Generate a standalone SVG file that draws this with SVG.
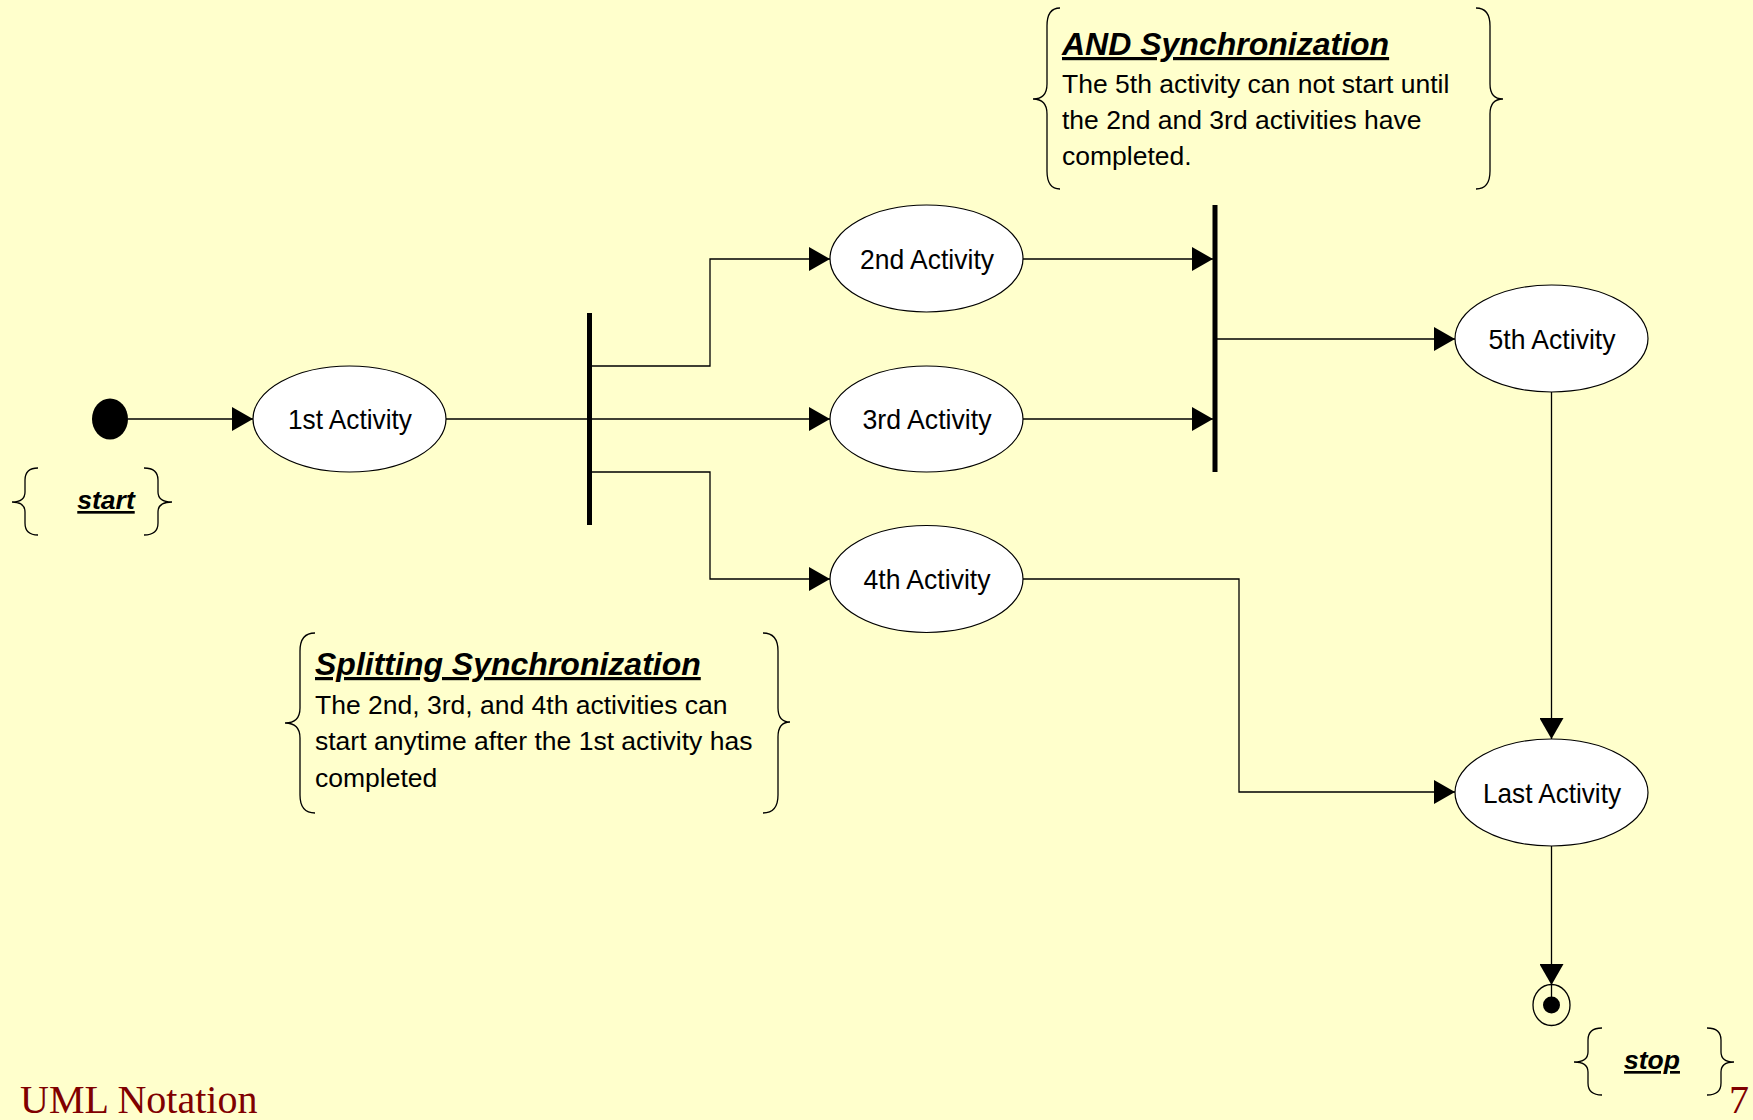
<svg xmlns="http://www.w3.org/2000/svg" width="1753" height="1120" viewBox="0 0 1753 1120">
<style>
.bg{fill:#FFFFCC}
.act{fill:#FFFFFF;stroke:#000;stroke-width:1.2}
.lbl{font-family:"Liberation Sans",Arial,sans-serif;font-size:28px;fill:#000;text-anchor:middle}
.con{fill:none;stroke:#000;stroke-width:1.3}
.bar{fill:#000}
.brace{fill:none;stroke:#000;stroke-width:1.3}
.ttl{font-family:"Liberation Sans",Arial,sans-serif;font-size:32px;font-weight:bold;font-style:italic;text-decoration:underline;fill:#000}
.body{font-family:"Liberation Sans",Arial,sans-serif;font-size:26.5px;fill:#000}
.tag{font-family:"Liberation Sans",Arial,sans-serif;font-size:26.5px;font-weight:bold;font-style:italic;text-decoration:underline;fill:#000;text-anchor:middle}
.foot{font-family:"Liberation Serif","Times New Roman",serif;font-size:40px;fill:#800000}
</style>
<defs>
<marker id="arr" markerUnits="userSpaceOnUse" markerWidth="22" markerHeight="24" viewBox="0 0 21 24" refX="21" refY="12" orient="auto">
<path d="M0,0 L21,12 L0,24 z" fill="#000"/>
</marker>
</defs>
<rect class="bg" x="0" y="0" width="1753" height="1120"/>

<g id="connectors">
<path class="con" d="M128,419 H253" marker-end="url(#arr)"/>
<path class="con" d="M446,419 H830" marker-end="url(#arr)"/>
<path class="con" d="M592,366 H710 V259 H830" marker-end="url(#arr)"/>
<path class="con" d="M592,472 H710 V579 H830" marker-end="url(#arr)"/>
<path class="con" d="M1023,259 H1213" marker-end="url(#arr)"/>
<path class="con" d="M1023,419 H1213" marker-end="url(#arr)"/>
<path class="con" d="M1217,339 H1455" marker-end="url(#arr)"/>
<path class="con" d="M1023,579 H1239 V792 H1455" marker-end="url(#arr)"/>
<path class="con" d="M1551.5,392 V739" marker-end="url(#arr)"/>
<path class="con" d="M1551.5,846 V985" marker-end="url(#arr)"/>
</g>

<g id="start">
<ellipse cx="110" cy="419" rx="18" ry="20.5" fill="#000"/>
</g>
<g id="start-note">
<path class="brace" d="M38,468 Q25,468 25,480 L25,492 Q25,502 12,502 Q25,502 25,512 L25,523 Q25,535 38,535"/>
<path class="brace" d="M144,468 Q158,468 158,480 L158,492 Q158,502 172,502 Q158,502 158,512 L158,523 Q158,535 144,535"/>
<text class="tag" x="106" y="509">start</text>
</g>

<g id="act1">
<ellipse class="act" cx="349.5" cy="419" rx="96.5" ry="53"/>
<text class="lbl" x="350" y="429" textLength="124" lengthAdjust="spacingAndGlyphs">1st Activity</text>
</g>

<g id="fork">
<rect class="bar" x="587" y="313" width="5" height="212"/>
</g>

<g id="act2">
<ellipse class="act" cx="926.5" cy="258.5" rx="96.5" ry="53.5"/>
<text class="lbl" x="927" y="269" textLength="134" lengthAdjust="spacingAndGlyphs">2nd Activity</text>
</g>
<g id="act3">
<ellipse class="act" cx="926.5" cy="419" rx="96.5" ry="53"/>
<text class="lbl" x="927" y="429" textLength="129" lengthAdjust="spacingAndGlyphs">3rd Activity</text>
</g>
<g id="act4">
<ellipse class="act" cx="926.5" cy="579" rx="96.5" ry="53.5"/>
<text class="lbl" x="927" y="589" textLength="127" lengthAdjust="spacingAndGlyphs">4th Activity</text>
</g>

<g id="join">
<rect class="bar" x="1212.5" y="205" width="5" height="267"/>
</g>

<g id="act5">
<ellipse class="act" cx="1551.5" cy="338.5" rx="96.5" ry="53.5"/>
<text class="lbl" x="1552" y="349" textLength="127" lengthAdjust="spacingAndGlyphs">5th Activity</text>
</g>
<g id="actLast">
<ellipse class="act" cx="1551.5" cy="792.5" rx="96.5" ry="53.5"/>
<text class="lbl" x="1552" y="803" textLength="138" lengthAdjust="spacingAndGlyphs">Last Activity</text>
</g>

<g id="end">
<ellipse cx="1551.5" cy="1005" rx="18.5" ry="20.5" fill="none" stroke="#000" stroke-width="1.3"/>
<line x1="1551.5" y1="985" x2="1551.5" y2="998" stroke="#000" stroke-width="1.3"/>
<circle cx="1551.5" cy="1005" r="8.5" fill="#000"/>
</g>
<g id="stop-note">
<path class="brace" d="M1602,1028 Q1588,1028 1588,1040 L1588,1052 Q1588,1062 1574,1062 Q1588,1062 1588,1072 L1588,1083 Q1588,1095 1602,1095"/>
<path class="brace" d="M1707,1028 Q1721,1028 1721,1040 L1721,1052 Q1721,1062 1734,1062 Q1721,1062 1721,1072 L1721,1083 Q1721,1095 1707,1095"/>
<text class="tag" x="1652" y="1069">stop</text>
</g>

<g id="and-note">
<path class="brace" d="M1060,8 Q1047,8 1047,26 L1047,84 Q1047,99 1033,99 Q1047,99 1047,114 L1047,171 Q1047,189 1060,189"/>
<path class="brace" d="M1476,8 Q1490,8 1490,26 L1490,84 Q1490,99 1503,99 Q1490,99 1490,114 L1490,171 Q1490,189 1476,189"/>
<text class="ttl" x="1062" y="55">AND Synchronization</text>
<text class="body" x="1062" y="93">The 5th activity can not start until</text>
<text class="body" x="1062" y="129">the 2nd and 3rd activities have</text>
<text class="body" x="1062" y="165">completed.</text>
</g>

<g id="split-note">
<path class="brace" d="M315,633 Q300,633 300,651 L300,708 Q300,723 285,723 Q300,723 300,738 L300,795 Q300,813 315,813"/>
<path class="brace" d="M763,633 Q778,633 778,651 L778,708 Q778,722 790,722 Q778,722 778,737 L778,795 Q778,813 763,813"/>
<text class="ttl" x="315" y="675">Splitting Synchronization</text>
<text class="body" x="315" y="714">The 2nd, 3rd, and 4th activities can</text>
<text class="body" x="315" y="750">start anytime after the 1st activity has</text>
<text class="body" x="315" y="787">completed</text>
</g>

<g id="footer">
<text class="foot" x="20" y="1113">UML Notation</text>
<text class="foot" x="1729" y="1113">7</text>
</g>
</svg>
